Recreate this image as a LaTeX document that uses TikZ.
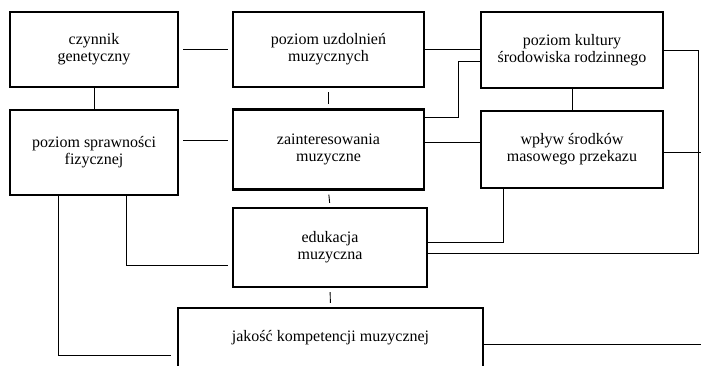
\documentclass[tikz,border=0pt]{standalone}
\usepackage{fontspec}
\setmainfont{Liberation Serif}
\tikzset{
  box/.style={draw, line width=2.4pt, align=center, inner sep=0pt,
    font=\fontsize{16}{17}\selectfont},
  link/.style={draw, line width=0.9pt},
  gap/.style={shorten <=4pt, shorten >=4pt}
}
\begin{document}
\begin{tikzpicture}[x=1pt,y=-1pt]
\useasboundingbox (0,0) rectangle (701,365);
\clip (0,0) rectangle (701,365);
\coordinate (edge) at (701,0);
% boxes
\node[box, minimum width=168pt, minimum height=75pt] (gen) at (94,49.5) {czynnik\\genetyczny};
\node[box, minimum width=191pt, minimum height=75pt] (uzd) at (328.5,49.5) {poziom uzdolnień\\muzycznych};
\node[box, minimum width=182pt, minimum height=76pt] (kult) at (572,50) {poziom kultury\\środowiska rodzinnego};
\node[box, minimum width=168pt, minimum height=85pt] (spr) at (94,152.5) {poziom sprawności\\fizycznej};
\node[box, minimum width=191pt, minimum height=80pt] (zaint) at (328.5,149.5) {zainteresowania\\muzyczne};
\node[box, minimum width=182pt, minimum height=77pt] (media) at (572,149.5) {wpływ środków\\masowego przekazu};
\node[box, minimum width=194pt, minimum height=79pt] (edu) at (330,247.5) {edukacja\\muzyczna};
\node[box, minimum width=305pt, minimum height=60pt] (komp) at (330.5,338) {jakość kompetencji muzycznej};
% top row
\draw[link, gap] (gen.east) -- (gen.east -| uzd.west);
\draw[link] (uzd.east) -- (uzd.east -| kult.west);
% verticals
\draw[link] (gen.south) -- (spr.north);
\draw[link, gap] (uzd.south) -- (zaint.north);
\draw[link] (kult.south) -- (media.north);
\draw[link, gap] (zaint.south) -- (edu.north);
\draw[link, gap] (edu.south) -- (komp.north);
% middle row
\draw[link, gap] ([yshift=12pt]spr.east) coordinate (a) -- (a -| zaint.west);
\draw[link] ([yshift=7.5pt]zaint.east) coordinate (b) -- (b -| media.west);
\draw[link] ([yshift=32.5pt]zaint.east) -- ++(33,0) |- ([yshift=-11pt]kult.west);
% to the right edge
\draw[link] (kult.east) -- ++(34,0) |- ([yshift=-5.5pt]edu.east);
\draw[link] ([yshift=-2.5pt]media.east) coordinate (c) -- (c -| edge);
\draw[link] ([xshift=-69pt]media.south) |- ([yshift=5.5pt]edu.east);
\draw[link] ([yshift=-6pt]komp.east) coordinate (d) -- (d -| edge);
% from the left
\draw[link, shorten >=4pt] ([xshift=32pt]spr.south) |- ([yshift=-17.5pt]edu.west);
\draw[link, shorten >=6pt] ([xshift=-36pt]spr.south) |- ([yshift=-17pt]komp.west);
\end{tikzpicture}
\end{document}
